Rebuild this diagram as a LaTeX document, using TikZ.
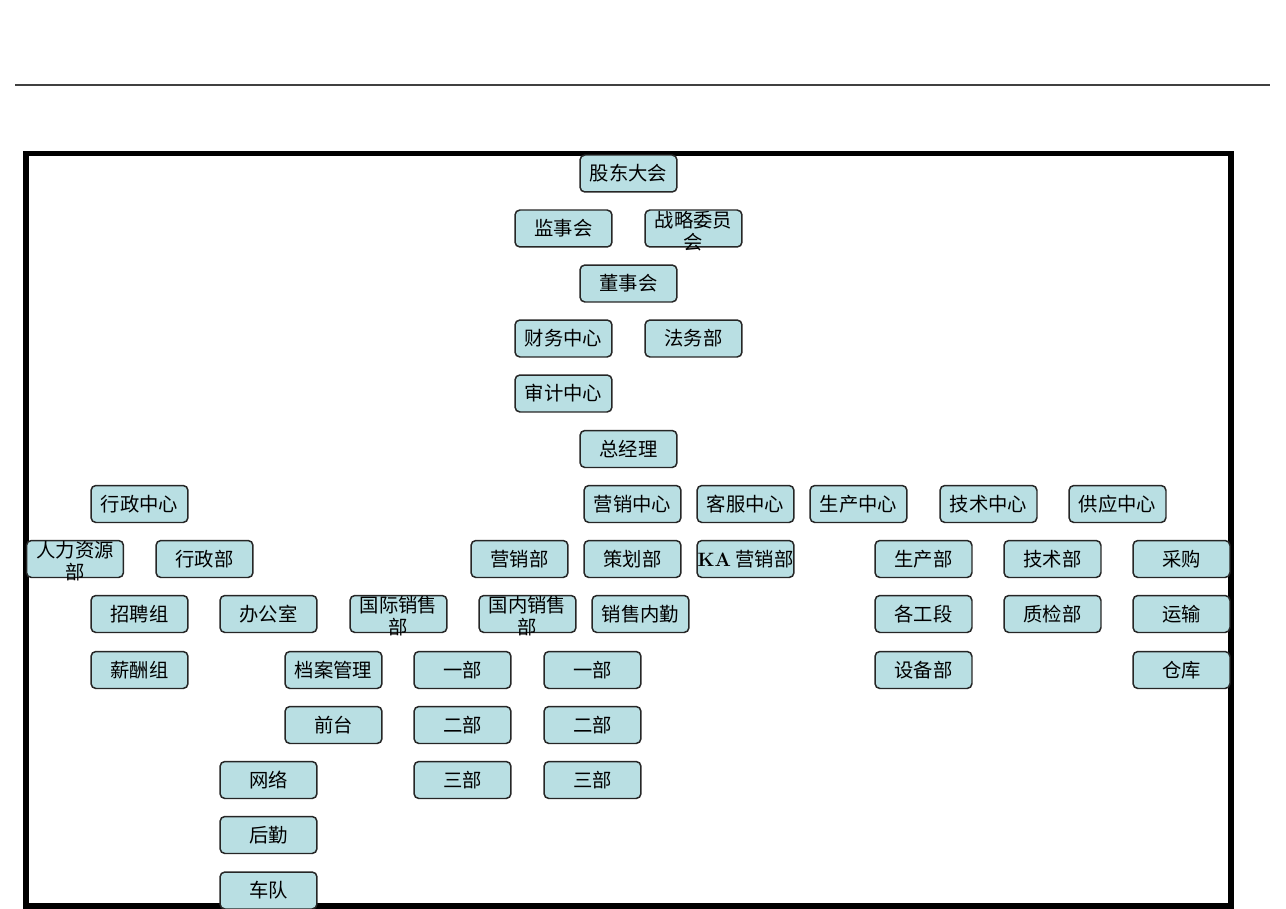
\documentclass[tikz,border=0pt]{standalone}
\usepackage{fontspec}
\usepackage{tikz}
\newfontfamily\cjk{Noto Sans CJK SC}
\newcommand\twoline[2]{\smash{\raisebox{-5.4pt}{\begin{tabular}{@{}c@{}}#1\\#2\end{tabular}}}}
\definecolor{boxfill}{RGB}{185,223,227}
\tikzset{dept/.style={draw=black!85, fill=boxfill, rounded corners=2.8pt, line width=0.85pt,
	minimum width=1.94cm, minimum height=0.74cm, inner sep=0pt, font=\cjk\fontsize{11}{11.3}\selectfont}}

\begin{document}
\begin{tikzpicture}[x=0.02cm, y=-0.02cm]
		\useasboundingbox (0, 0) rectangle (1286, 909);
		\draw[black!75, line width=1.1pt] (15, 85) -- (1270, 85);
		\draw[line width=3.4pt] (26, 153.5) rectangle (1231, 906);
		\foreach \x/\y/\n/\t in {628.5/173.5/gudong/股东大会, 563.5/228.5/jianshi/监事会,
			693.5/228.5/zhanlue/\twoline{战略委员}{会}, 628.5/283.5/dongshi/董事会,
			563.5/338.5/caiwu/财务中心, 693.5/338.5/fawu/法务部, 563.5/393.5/shenji/审计中心,
			628.5/449/zongjingli/总经理}
			\node[dept] (\n) at (\x, \y) {\t};
		\foreach \x/\n/\t in {139.5/xingzhengzx/行政中心, 632.5/yingxiaozx/营销中心, 745.5/kefuzx/客服中心,
			858.5/shengchanzx/生产中心, 988.5/jishuzx/技术中心, 1117.5/gongyingzx/供应中心}
			\node[dept] (\n) at (\x, 504) {\t};
		\foreach \x/\n/\t in {75/renli/\twoline{人力资源}{部}, 204.5/xingzhengbu/行政部, 519.5/yingxiaobu/营销部,
			632.5/cehua/策划部, 745.5/ka/{\rmfamily\bfseries KA} 营销部, 923.5/shengchanbu/生产部,
			1052.5/jishubu/技术部, 1181.5/caigou/采购}
			\node[dept] (\n) at (\x, 559) {\t};
		\foreach \x/\n/\t in {139.5/zhaopin/招聘组, 268.5/bangong/办公室, 398.5/guoji/\twoline{国际销售}{部},
			527.5/guonei/\twoline{国内销售}{部}, 640.5/neiqin/销售内勤, 923.5/gongduan/各工段,
			1052.5/zhijian/质检部, 1181.5/yunshu/运输}
			\node[dept] (\n) at (\x, 614) {\t};
		\foreach \x/\n/\t in {139.5/xinchou/薪酬组, 333.5/dangan/档案管理, 462.5/gjyi/一部,
			592.5/gnyi/一部, 923.5/shebei/设备部, 1181.5/cangku/仓库}
			\node[dept] (\n) at (\x, 670) {\t};
		\foreach \x/\y/\n/\t in {333.5/725/qiantai/前台, 462.5/725/gjer/二部, 592.5/725/gner/二部,
			268.5/780/wangluo/网络, 462.5/780/gjsan/三部, 592.5/780/gnsan/三部,
			268.5/835/houqin/后勤, 268.5/890.5/chedui/车队}
			\node[dept] (\n) at (\x, \y) {\t};
	\end{tikzpicture}
\end{document}
